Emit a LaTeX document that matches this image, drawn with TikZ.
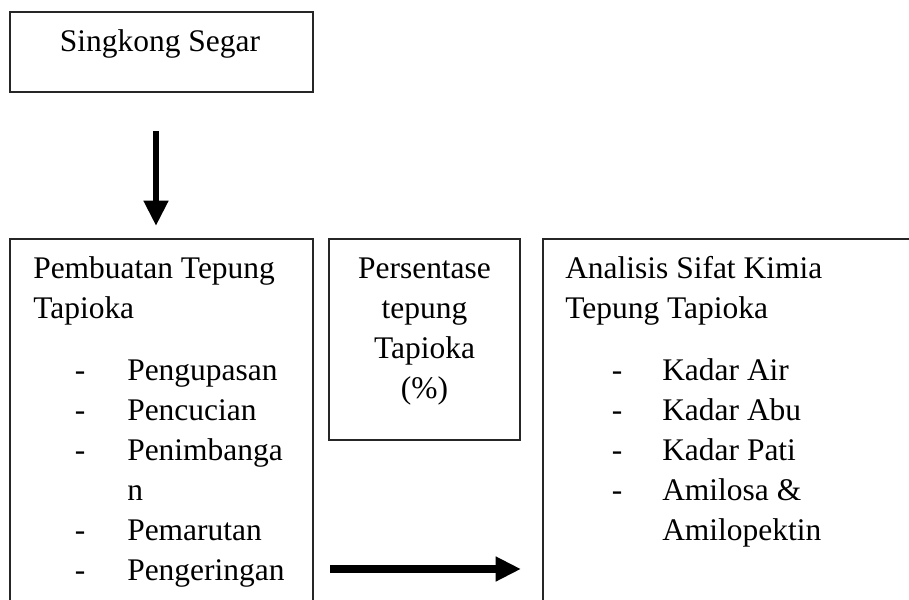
\documentclass[tikz,border=0pt]{standalone}
\usepackage{fontspec}
\setmainfont{Liberation Serif}
\usetikzlibrary{arrows.meta}
\tikzset{
  boxline/.style={line width=1.1pt, draw=black!85},
  txt/.style={inner sep=0pt, anchor=base west, font=\fontsize{23.6pt}{30pt}\selectfont},
  ctxt/.style={inner sep=0pt, anchor=base, font=\fontsize{23.6pt}{30pt}\selectfont},
  bigarrow/.style={line width=#1, -{Triangle[width=17.5pt,length=19pt]}},
}
\begin{document}
\begin{tikzpicture}[x=0.75pt,y=-0.75pt]
\useasboundingbox (0,0) rectangle (909,599);
% top box
\node[boxline, draw, rectangle, minimum width=303*0.75pt, minimum height=80*0.75pt, inner sep=0pt] (top) at (161.5,52) {};
\node[ctxt] (toptxt) at (160,52) {Singkong Segar};
% down arrow
\coordinate (d1) at (156,131);
\coordinate (d2) at (156,226);
\draw[bigarrow=5.2pt] (d1) -- (d2);
% left box (open bottom)
\draw[boxline] (10,605) -- (10,239) -- (313,239) -- (313,605);
\node[txt] (l1) at (33,278) {Pembuatan Tepung};
\node[txt] (l2) at (33,318) {Tapioka};
\foreach \y/\t/\d in {380/Pengupasan/1, 420/Pencucian/1, 460/Penimbanga/1, 500/n/0, 540/Pemarutan/1, 580/Pengeringan/1}{
  \ifnum\d=1 \node[ctxt] at (80,\y) {-};\fi
  \node[txt] at (127,\y) {\t};
}
% middle box
\draw[boxline] (329,239) rectangle (520,440);
\node[ctxt] (m1) at (424.5,278) {Persentase};
\node[ctxt] (m2) at (424.5,318) {tepung};
\node[ctxt] (m3) at (424.5,358) {Tapioka};
\node[ctxt] (m4) at (424.5,398) {(\%)};
% right box (open right/bottom)
\draw[boxline] (915,239) -- (543,239) -- (543,605);
\node[txt] (r1) at (565,278) {Analisis Sifat Kimia};
\node[txt] (r2) at (565,318) {Tepung Tapioka};
\foreach \y/\t/\d in {380/Kadar Air/1, 420/Kadar Abu/1, 460/Kadar Pati/1, 500/Amilosa \&/1, 540/Amilopektin/0}{
  \ifnum\d=1 \node[ctxt] at (617,\y) {-};\fi
  \node[txt] at (662,\y) {\t};
}
% horizontal arrow
\coordinate (h1) at (330,569);
\coordinate (h2) at (521,569);
\draw[bigarrow=6.7pt] (h1) -- (h2);
\end{tikzpicture}
\end{document}
